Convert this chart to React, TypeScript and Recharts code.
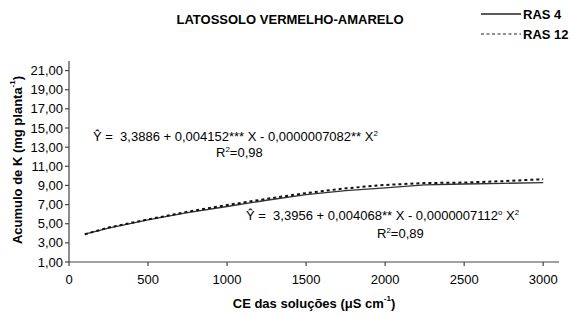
import React from 'react';
import { LineChart, Line, XAxis, YAxis } from 'recharts';

const ce = [100, 250, 500, 750, 1000, 1250, 1500, 1750, 2000, 2250, 2500, 2750, 3000];
const ras4 = [3.9, 4.55, 5.4, 6.15, 6.8, 7.45, 8.05, 8.45, 8.75, 9.05, 9.15, 9.22, 9.3];
const ras12 = [3.9, 4.6, 5.45, 6.25, 6.95, 7.6, 8.2, 8.7, 9.05, 9.25, 9.3, 9.45, 9.65];
const xTicks = [0, 500, 1000, 1500, 2000, 2500, 3000];
const yTicks = [1, 3, 5, 7, 9, 11, 13, 15, 17, 19, 21];

const font = '"Liberation Sans", Arial, sans-serif';

const data = ce.map((x, i) => ({ ce: x, ras4: ras4[i], ras12: ras12[i] }));

const fmt = (v: number) => v.toFixed(2).replace('.', ',');

function LegendBox() {
  const rows = [
    { name: 'RAS 4', dash: undefined, width: 1.3 },
    { name: 'RAS 12', dash: '3 2.5', width: 1 },
  ];
  return (
    <div
      style={{
        position: 'absolute',
        left: 481,
        top: 4,
        fontFamily: font,
        fontWeight: 'bold',
        fontSize: 13,
        color: '#000',
      }}
    >
      {rows.map((r) => (
        <div key={r.name} style={{ display: 'flex', alignItems: 'center', height: 20 }}>
          <svg width={41} height={6} style={{ marginRight: 1 }}>
            <line x1={0} y1={3} x2={40} y2={3} stroke="#222" strokeWidth={r.width} strokeDasharray={r.dash} />
          </svg>
          <span>{r.name}</span>
        </div>
      ))}
    </div>
  );
}

const YLabel = () => (
  <text
    x={17}
    y={160}
    transform="rotate(-90, 17, 160)"
    textAnchor="middle"
    dominantBaseline="central"
    fontFamily={font}
    fontSize={13}
    fontWeight="bold"
    fill="#000"
  >
    Acumulo de K (mg planta
    <tspan dy={-5} fontSize={8}>-1</tspan>
    <tspan dy={5}>)</tspan>
  </text>
);

const XLabel = () => (
  <text
    x={314}
    y={303}
    textAnchor="middle"
    dominantBaseline="central"
    fontFamily={font}
    fontSize={13}
    fontWeight="bold"
    fill="#000"
  >
    CE das soluções (μS cm
    <tspan dy={-5} fontSize={8}>-1</tspan>
    <tspan dy={5}>)</tspan>
  </text>
);

const noteStyle: React.CSSProperties = {
  position: 'absolute',
  fontFamily: font,
  fontSize: 13,
  lineHeight: '15px',
  whiteSpace: 'pre',
  color: '#000',
};

const supStyle: React.CSSProperties = { fontSize: 8, verticalAlign: 'top', lineHeight: '10px' };

export default function App() {
  return (
    <div style={{ position: 'absolute', left: 0, top: 0, width: 571, height: 316, background: '#fff' }}>
      <div
        style={{
          position: 'absolute',
          left: 290,
          top: 19,
          transform: 'translate(-50%, -50%)',
          fontFamily: font,
          fontWeight: 'bold',
          fontSize: 13,
          whiteSpace: 'nowrap',
        }}
      >
        LATOSSOLO VERMELHO-AMARELO
      </div>
      <LineChart width={571} height={316} data={data} margin={{ top: 61, right: 12, bottom: 0, left: 0 }}>
        <XAxis
          type="number"
          dataKey="ce"
          domain={[0, 3100]}
          ticks={xTicks}
          interval={0}
          height={54}
          stroke="#444"
          strokeWidth={1.2}
          tickSize={4}
          tickMargin={9}
          tick={{ fill: '#000', fontSize: 13, fontFamily: font }}
          label={<XLabel />}
        />
        <YAxis
          type="number"
          domain={[1, 22]}
          ticks={yTicks}
          interval={0}
          width={69}
          stroke="#444"
          strokeWidth={1.2}
          tickSize={4}
          tickMargin={2}
          tickFormatter={fmt}
          tick={{ fill: '#000', fontSize: 13, fontFamily: font }}
          label={<YLabel />}
        />
        <Line
          type="linear"
          dataKey="ras4"
          name="RAS 4"
          stroke="#333"
          strokeWidth={1.3}
          dot={false}
          isAnimationActive={false}
        />
        <Line
          type="linear"
          dataKey="ras12"
          name="RAS 12"
          stroke="#111"
          strokeWidth={2}
          strokeDasharray="3 3"
          dot={false}
          isAnimationActive={false}
        />
      </LineChart>
      <LegendBox />
      <div style={{ ...noteStyle, left: 93, top: 129 }}>
        Ŷ =  3,3886 + 0,004152*** X - 0,0000007082** X<sup style={supStyle}>2</sup>
      </div>
      <div style={{ ...noteStyle, left: 216, top: 145 }}>
        R<sup style={supStyle}>2</sup>=0,98
      </div>
      <div style={{ ...noteStyle, left: 246, top: 208 }}>
        Ŷ =  3,3956 + 0,004068** X - 0,0000007112<sup style={supStyle}>o</sup> X<sup style={supStyle}>2</sup>
      </div>
      <div style={{ ...noteStyle, left: 377, top: 226 }}>
        R<sup style={supStyle}>2</sup>=0,89
      </div>
    </div>
  );
}
